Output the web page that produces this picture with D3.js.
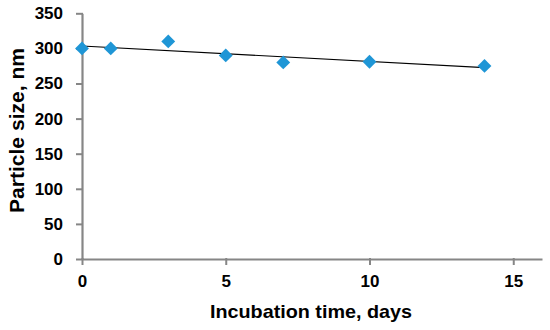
<!DOCTYPE html>
<html><head><meta charset="utf-8">
<script src="https://cdn.jsdelivr.net/npm/d3@7"></script>
<style>body{margin:0;background:#fff}svg{display:block}text{font-family:"Liberation Sans",Arial,sans-serif;font-weight:bold;fill:#000}</style>
</head><body>
<svg id="c" width="550" height="330"></svg>
<script>
const days = [0, 1, 3, 5, 7, 10, 14];
const sizes = [300, 300, 310, 290, 280, 281, 275];
const xTicks = [0, 5, 10, 15];
const yTicks = [0, 50, 100, 150, 200, 250, 300, 350];

const svg = d3.select("#c");
const x = d3.scaleLinear().domain([0, 16]).range([82, 542]);
const y = d3.scaleLinear().domain([0, 350]).range([259, 13.3]);
const axisColor = "#868686";

const xa = svg.append("g").attr("transform", `translate(0,${y(0)})`)
  .call(d3.axisBottom(x).tickValues(xTicks).tickSize(6).tickSizeOuter(0).tickPadding(10));
const ya = svg.append("g").attr("transform", `translate(${x(0)},0)`)
  .call(d3.axisLeft(y).tickValues(yTicks).tickSize(6).tickSizeOuter(0).tickPadding(13));
[xa, ya].forEach(a => {
  a.select(".domain").attr("stroke", axisColor).attr("stroke-width", 2.2);
  a.selectAll(".tick line").attr("stroke", axisColor).attr("stroke-width", 2);
  a.selectAll(".tick text").style("font-size", "17px").attr("fill", "#000");
});
xa.selectAll(".tick line").attr("y1", -1);
ya.selectAll(".tick line").attr("x1", 1);

// linear trendline (least squares)
const mx = d3.mean(days), my = d3.mean(sizes);
const slope = d3.sum(days.map((d, i) => (d - mx) * (sizes[i] - my))) / d3.sum(days.map(d => (d - mx) ** 2));
const icpt = my - slope * mx;
const xr = d3.extent(days);
svg.append("line")
  .attr("x1", x(xr[0])).attr("y1", y(icpt + slope * xr[0]))
  .attr("x2", x(xr[1])).attr("y2", y(icpt + slope * xr[1]))
  .attr("stroke", "#000").attr("stroke-width", 1.1);

const sym = d3.symbol().type(d3.symbolDiamond2).size(122);
svg.append("g").selectAll("path").data(days).join("path")
  .attr("transform", (d, i) => `translate(${x(d)},${y(sizes[i])})`)
  .attr("d", sym).attr("fill", "#1F96D6");

svg.append("text").attr("x", 311).attr("y", 318).attr("text-anchor", "middle")
  .attr("textLength", 202).attr("lengthAdjust", "spacingAndGlyphs")
  .style("font-size", "19px").text("Incubation time, days");
svg.append("text").attr("transform", `translate(24,130.5) rotate(-90)`).attr("text-anchor", "middle")
  .attr("textLength", 165).attr("lengthAdjust", "spacingAndGlyphs")
  .style("font-size", "20px").text("Particle size, nm");
</script>
</body></html>
